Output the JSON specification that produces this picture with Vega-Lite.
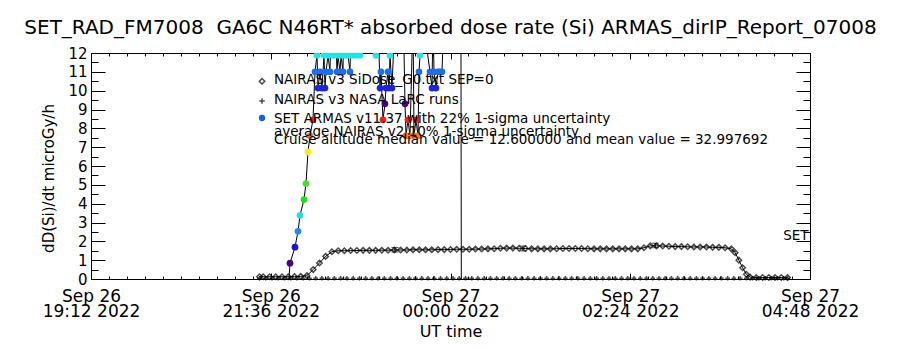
{
  "$schema": "https://vega.github.io/schema/vega-lite/v6.json",
  "width": 719,
  "height": 226,
  "autosize": {"type": "none"},
  "padding": {"left": 91, "top": 53, "right": 90, "bottom": 71},
  "background": "white",
  "title": {"text": "SET_RAD_FM7008\u00a0 GA6C N46RT* absorbed dose rate (Si) ARMAS_dirIP_Report_07008", "fontSize": 20, "font": "DejaVu Sans", "fontWeight": "normal", "color": "black", "offset": 8, "anchor": "middle"},
  "datasets": {
    "nairas": [
      {"t": "2022-09-26T21:27:00Z", "v": 0.12}, {"t": "2022-09-26T21:30:00Z", "v": 0.12}, {"t": "2022-09-26T21:35:00Z", "v": 0.12},
      {"t": "2022-09-26T21:40:00Z", "v": 0.12}, {"t": "2022-09-26T21:45:00Z", "v": 0.12}, {"t": "2022-09-26T21:50:00Z", "v": 0.12},
      {"t": "2022-09-26T21:55:00Z", "v": 0.13}, {"t": "2022-09-26T22:00:00Z", "v": 0.14}, {"t": "2022-09-26T22:05:00Z", "v": 0.18},
      {"t": "2022-09-26T22:10:00Z", "v": 0.5}, {"t": "2022-09-26T22:15:00Z", "v": 0.85}, {"t": "2022-09-26T22:20:00Z", "v": 1.2},
      {"t": "2022-09-26T22:25:00Z", "v": 1.45}, {"t": "2022-09-26T22:30:00Z", "v": 1.5}, {"t": "2022-09-26T22:35:00Z", "v": 1.5},
      {"t": "2022-09-26T22:40:00Z", "v": 1.51}, {"t": "2022-09-26T22:45:00Z", "v": 1.51}, {"t": "2022-09-26T22:50:00Z", "v": 1.52},
      {"t": "2022-09-26T22:55:00Z", "v": 1.52}, {"t": "2022-09-26T23:00:00Z", "v": 1.52}, {"t": "2022-09-26T23:05:00Z", "v": 1.53},
      {"t": "2022-09-26T23:10:00Z", "v": 1.53}, {"t": "2022-09-26T23:15:00Z", "v": 1.54}, {"t": "2022-09-26T23:20:00Z", "v": 1.54},
      {"t": "2022-09-26T23:25:00Z", "v": 1.54}, {"t": "2022-09-26T23:30:00Z", "v": 1.55}, {"t": "2022-09-26T23:35:00Z", "v": 1.55},
      {"t": "2022-09-26T23:40:00Z", "v": 1.55}, {"t": "2022-09-26T23:45:00Z", "v": 1.55}, {"t": "2022-09-26T23:50:00Z", "v": 1.56},
      {"t": "2022-09-26T23:55:00Z", "v": 1.56}, {"t": "2022-09-27T00:00:00Z", "v": 1.57}, {"t": "2022-09-27T00:05:00Z", "v": 1.58},
      {"t": "2022-09-27T00:10:00Z", "v": 1.58}, {"t": "2022-09-27T00:15:00Z", "v": 1.58}, {"t": "2022-09-27T00:20:00Z", "v": 1.59},
      {"t": "2022-09-27T00:25:00Z", "v": 1.59}, {"t": "2022-09-27T00:30:00Z", "v": 1.6}, {"t": "2022-09-27T00:35:00Z", "v": 1.61},
      {"t": "2022-09-27T00:40:00Z", "v": 1.63}, {"t": "2022-09-27T00:45:00Z", "v": 1.64}, {"t": "2022-09-27T00:50:00Z", "v": 1.64},
      {"t": "2022-09-27T00:55:00Z", "v": 1.63}, {"t": "2022-09-27T01:00:00Z", "v": 1.62}, {"t": "2022-09-27T01:05:00Z", "v": 1.6},
      {"t": "2022-09-27T01:10:00Z", "v": 1.6}, {"t": "2022-09-27T01:15:00Z", "v": 1.6}, {"t": "2022-09-27T01:20:00Z", "v": 1.6},
      {"t": "2022-09-27T01:25:00Z", "v": 1.61}, {"t": "2022-09-27T01:30:00Z", "v": 1.62}, {"t": "2022-09-27T01:35:00Z", "v": 1.62},
      {"t": "2022-09-27T01:40:00Z", "v": 1.62}, {"t": "2022-09-27T01:45:00Z", "v": 1.62}, {"t": "2022-09-27T01:50:00Z", "v": 1.61},
      {"t": "2022-09-27T01:55:00Z", "v": 1.6}, {"t": "2022-09-27T02:00:00Z", "v": 1.6}, {"t": "2022-09-27T02:05:00Z", "v": 1.6},
      {"t": "2022-09-27T02:10:00Z", "v": 1.6}, {"t": "2022-09-27T02:15:00Z", "v": 1.6}, {"t": "2022-09-27T02:20:00Z", "v": 1.6},
      {"t": "2022-09-27T02:25:00Z", "v": 1.6}, {"t": "2022-09-27T02:30:00Z", "v": 1.6}, {"t": "2022-09-27T02:35:00Z", "v": 1.66},
      {"t": "2022-09-27T02:40:00Z", "v": 1.76}, {"t": "2022-09-27T02:45:00Z", "v": 1.76}, {"t": "2022-09-27T02:50:00Z", "v": 1.75},
      {"t": "2022-09-27T02:55:00Z", "v": 1.74}, {"t": "2022-09-27T03:00:00Z", "v": 1.72}, {"t": "2022-09-27T03:05:00Z", "v": 1.72},
      {"t": "2022-09-27T03:10:00Z", "v": 1.71}, {"t": "2022-09-27T03:15:00Z", "v": 1.7}, {"t": "2022-09-27T03:20:00Z", "v": 1.7},
      {"t": "2022-09-27T03:25:00Z", "v": 1.7}, {"t": "2022-09-27T03:30:00Z", "v": 1.68}, {"t": "2022-09-27T03:35:00Z", "v": 1.68},
      {"t": "2022-09-27T03:40:00Z", "v": 1.66}, {"t": "2022-09-27T03:45:00Z", "v": 1.6}, {"t": "2022-09-27T03:48:00Z", "v": 1.4},
      {"t": "2022-09-27T03:51:00Z", "v": 1.0}, {"t": "2022-09-27T03:54:00Z", "v": 0.6}, {"t": "2022-09-27T03:57:00Z", "v": 0.25},
      {"t": "2022-09-27T04:00:00Z", "v": 0.1}, {"t": "2022-09-27T04:05:00Z", "v": 0.08}, {"t": "2022-09-27T04:10:00Z", "v": 0.08},
      {"t": "2022-09-27T04:15:00Z", "v": 0.08}, {"t": "2022-09-27T04:20:00Z", "v": 0.08}, {"t": "2022-09-27T04:25:00Z", "v": 0.08},
      {"t": "2022-09-27T04:30:00Z", "v": 0.08}
    ],
    "larc": [
      {"t": "2022-09-26T21:27:00Z", "v": 0.04}, {"t": "2022-09-26T21:32:00Z", "v": 0.04}, {"t": "2022-09-26T21:37:00Z", "v": 0.04},
      {"t": "2022-09-26T21:42:00Z", "v": 0.04}, {"t": "2022-09-26T21:47:00Z", "v": 0.04}, {"t": "2022-09-26T21:52:00Z", "v": 0.04},
      {"t": "2022-09-26T21:57:00Z", "v": 0.04}, {"t": "2022-09-26T22:02:00Z", "v": 0.04}, {"t": "2022-09-26T22:07:00Z", "v": 0.04},
      {"t": "2022-09-26T22:12:00Z", "v": 0.04}, {"t": "2022-09-26T22:17:00Z", "v": 0.04}, {"t": "2022-09-26T22:22:00Z", "v": 0.04},
      {"t": "2022-09-26T22:27:00Z", "v": 0.04}, {"t": "2022-09-26T22:32:00Z", "v": 0.04}, {"t": "2022-09-26T22:37:00Z", "v": 0.04},
      {"t": "2022-09-26T22:42:00Z", "v": 0.04}, {"t": "2022-09-26T22:47:00Z", "v": 0.04}, {"t": "2022-09-26T22:52:00Z", "v": 0.04},
      {"t": "2022-09-26T22:57:00Z", "v": 0.04}, {"t": "2022-09-26T23:02:00Z", "v": 0.04}, {"t": "2022-09-26T23:07:00Z", "v": 0.04},
      {"t": "2022-09-26T23:12:00Z", "v": 0.04}, {"t": "2022-09-26T23:17:00Z", "v": 0.04}, {"t": "2022-09-26T23:22:00Z", "v": 0.04},
      {"t": "2022-09-26T23:27:00Z", "v": 0.04}, {"t": "2022-09-26T23:32:00Z", "v": 0.04}, {"t": "2022-09-26T23:37:00Z", "v": 0.04},
      {"t": "2022-09-26T23:42:00Z", "v": 0.04}, {"t": "2022-09-26T23:47:00Z", "v": 0.04}, {"t": "2022-09-26T23:52:00Z", "v": 0.04},
      {"t": "2022-09-26T23:57:00Z", "v": 0.04}, {"t": "2022-09-27T00:02:00Z", "v": 0.04}, {"t": "2022-09-27T00:07:00Z", "v": 0.04},
      {"t": "2022-09-27T00:12:00Z", "v": 0.04}, {"t": "2022-09-27T00:17:00Z", "v": 0.04}, {"t": "2022-09-27T00:22:00Z", "v": 0.04},
      {"t": "2022-09-27T00:27:00Z", "v": 0.04}, {"t": "2022-09-27T00:32:00Z", "v": 0.04}, {"t": "2022-09-27T00:37:00Z", "v": 0.04},
      {"t": "2022-09-27T00:42:00Z", "v": 0.04}, {"t": "2022-09-27T00:47:00Z", "v": 0.04}, {"t": "2022-09-27T00:52:00Z", "v": 0.04},
      {"t": "2022-09-27T00:57:00Z", "v": 0.04}, {"t": "2022-09-27T01:02:00Z", "v": 0.04}, {"t": "2022-09-27T01:07:00Z", "v": 0.04},
      {"t": "2022-09-27T01:12:00Z", "v": 0.04}, {"t": "2022-09-27T01:17:00Z", "v": 0.04}, {"t": "2022-09-27T01:22:00Z", "v": 0.04},
      {"t": "2022-09-27T01:27:00Z", "v": 0.04}, {"t": "2022-09-27T01:32:00Z", "v": 0.04}, {"t": "2022-09-27T01:37:00Z", "v": 0.04},
      {"t": "2022-09-27T01:42:00Z", "v": 0.04}, {"t": "2022-09-27T01:47:00Z", "v": 0.04}, {"t": "2022-09-27T01:52:00Z", "v": 0.04},
      {"t": "2022-09-27T01:57:00Z", "v": 0.04}, {"t": "2022-09-27T02:02:00Z", "v": 0.04}, {"t": "2022-09-27T02:07:00Z", "v": 0.04},
      {"t": "2022-09-27T02:12:00Z", "v": 0.04}, {"t": "2022-09-27T02:17:00Z", "v": 0.04}, {"t": "2022-09-27T02:22:00Z", "v": 0.04},
      {"t": "2022-09-27T02:27:00Z", "v": 0.04}, {"t": "2022-09-27T02:32:00Z", "v": 0.04}, {"t": "2022-09-27T02:37:00Z", "v": 0.04},
      {"t": "2022-09-27T02:42:00Z", "v": 0.04}, {"t": "2022-09-27T02:47:00Z", "v": 0.04}, {"t": "2022-09-27T02:52:00Z", "v": 0.04},
      {"t": "2022-09-27T02:57:00Z", "v": 0.04}, {"t": "2022-09-27T03:02:00Z", "v": 0.04}, {"t": "2022-09-27T03:07:00Z", "v": 0.04},
      {"t": "2022-09-27T03:12:00Z", "v": 0.04}, {"t": "2022-09-27T03:17:00Z", "v": 0.04}, {"t": "2022-09-27T03:22:00Z", "v": 0.04},
      {"t": "2022-09-27T03:27:00Z", "v": 0.04}, {"t": "2022-09-27T03:32:00Z", "v": 0.04}, {"t": "2022-09-27T03:37:00Z", "v": 0.04},
      {"t": "2022-09-27T03:42:00Z", "v": 0.04}, {"t": "2022-09-27T03:47:00Z", "v": 0.04}, {"t": "2022-09-27T03:52:00Z", "v": 0.04},
      {"t": "2022-09-27T03:57:00Z", "v": 0.04}, {"t": "2022-09-27T04:02:00Z", "v": 0.04}, {"t": "2022-09-27T04:07:00Z", "v": 0.04},
      {"t": "2022-09-27T04:12:00Z", "v": 0.04}, {"t": "2022-09-27T04:17:00Z", "v": 0.04}, {"t": "2022-09-27T04:22:00Z", "v": 0.04},
      {"t": "2022-09-27T04:27:00Z", "v": 0.04}, {"t": "2022-09-27T04:30:00Z", "v": 0.04}
    ],
    "armas": [
      {"t": "2022-09-26T21:50:37Z", "v": 0}, {"t": "2022-09-26T21:51:25Z", "v": 0.84}, {"t": "2022-09-26T21:55:25Z", "v": 1.69},
      {"t": "2022-09-26T21:57:50Z", "v": 2.53}, {"t": "2022-09-26T21:59:26Z", "v": 3.38}, {"t": "2022-09-26T22:02:38Z", "v": 4.22},
      {"t": "2022-09-26T22:04:14Z", "v": 5.07}, {"t": "2022-09-26T22:05:50Z", "v": 6.75}, {"t": "2022-09-26T22:07:26Z", "v": 7.6},
      {"t": "2022-09-26T22:09:50Z", "v": 8.45}, {"t": "2022-09-26T22:11:27Z", "v": 11.0}, {"t": "2022-09-26T22:13:03Z", "v": 11.88},
      {"t": "2022-09-26T22:13:51Z", "v": 10.14}, {"t": "2022-09-26T22:15:27Z", "v": 11.0}, {"t": "2022-09-26T22:17:03Z", "v": 10.14},
      {"t": "2022-09-26T22:18:40Z", "v": 11.88}, {"t": "2022-09-26T22:19:28Z", "v": 10.14}, {"t": "2022-09-26T22:20:16Z", "v": 11.0},
      {"t": "2022-09-26T22:21:52Z", "v": 11.88}, {"t": "2022-09-26T22:23:28Z", "v": 11.0}, {"t": "2022-09-26T22:24:16Z", "v": 13.5},
      {"t": "2022-09-26T22:25:52Z", "v": 11.88}, {"t": "2022-09-26T22:27:28Z", "v": 14.2}, {"t": "2022-09-26T22:29:04Z", "v": 11.0},
      {"t": "2022-09-26T22:29:52Z", "v": 11.88}, {"t": "2022-09-26T22:31:28Z", "v": 11.0}, {"t": "2022-09-26T22:32:17Z", "v": 11.88},
      {"t": "2022-09-26T22:33:53Z", "v": 11.0}, {"t": "2022-09-26T22:34:41Z", "v": 15.0}, {"t": "2022-09-26T22:35:29Z", "v": 11.88},
      {"t": "2022-09-26T22:37:05Z", "v": 14.4}, {"t": "2022-09-26T22:37:53Z", "v": 11.88}, {"t": "2022-09-26T22:39:29Z", "v": 11.0},
      {"t": "2022-09-26T22:40:17Z", "v": 13.2}, {"t": "2022-09-26T22:41:05Z", "v": 11.88}, {"t": "2022-09-26T22:42:41Z", "v": 14.0},
      {"t": "2022-09-26T22:44:17Z", "v": 11.88}, {"t": "2022-09-26T22:45:53Z", "v": 16.0}, {"t": "2022-09-26T22:47:30Z", "v": 11.88},
      {"t": "2022-09-26T22:49:06Z", "v": 13.0}, {"t": "2022-09-26T22:52:18Z", "v": 14.5}, {"t": "2022-09-26T22:55:31Z", "v": 15.2},
      {"t": "2022-09-26T22:58:43Z", "v": 13.1}, {"t": "2022-09-26T23:00:19Z", "v": 11.88}, {"t": "2022-09-26T23:01:55Z", "v": 14.0},
      {"t": "2022-09-26T23:03:31Z", "v": 10.14}, {"t": "2022-09-26T23:04:19Z", "v": 11.0}, {"t": "2022-09-26T23:05:55Z", "v": 8.45},
      {"t": "2022-09-26T23:07:31Z", "v": 9.3}, {"t": "2022-09-26T23:08:19Z", "v": 10.14}, {"t": "2022-09-26T23:09:56Z", "v": 11.0},
      {"t": "2022-09-26T23:10:44Z", "v": 10.14}, {"t": "2022-09-26T23:11:32Z", "v": 11.88}, {"t": "2022-09-26T23:13:08Z", "v": 10.14},
      {"t": "2022-09-26T23:15:32Z", "v": 14.0}, {"t": "2022-09-26T23:19:32Z", "v": 13.0}, {"t": "2022-09-26T23:21:56Z", "v": 15.0},
      {"t": "2022-09-26T23:23:33Z", "v": 9.3}, {"t": "2022-09-26T23:24:21Z", "v": 7.6}, {"t": "2022-09-26T23:25:57Z", "v": 8.45},
      {"t": "2022-09-26T23:27:33Z", "v": 7.6}, {"t": "2022-09-26T23:29:57Z", "v": 14.0}, {"t": "2022-09-26T23:30:46Z", "v": 7.6},
      {"t": "2022-09-26T23:32:22Z", "v": 8.45}, {"t": "2022-09-26T23:33:58Z", "v": 7.6}, {"t": "2022-09-26T23:34:46Z", "v": 11.0},
      {"t": "2022-09-26T23:35:34Z", "v": 11.88}, {"t": "2022-09-26T23:37:10Z", "v": 14.0}, {"t": "2022-09-26T23:39:34Z", "v": 13.0},
      {"t": "2022-09-26T23:43:34Z", "v": 11.0}, {"t": "2022-09-26T23:45:11Z", "v": 10.14}, {"t": "2022-09-26T23:45:59Z", "v": 14.0},
      {"t": "2022-09-26T23:46:47Z", "v": 11.0}, {"t": "2022-09-26T23:48:23Z", "v": 10.14}, {"t": "2022-09-26T23:49:59Z", "v": 11.0},
      {"t": "2022-09-26T23:51:35Z", "v": 11.0}, {"t": "2022-09-26T23:53:11Z", "v": 11.0}, {"t": "2022-09-26T23:54:47Z", "v": 14.0},
      {"t": "2022-09-26T23:57:11Z", "v": 13.0}, {"t": "2022-09-27T00:01:12Z", "v": 15.0}, {"t": "2022-09-27T00:06:00Z", "v": 14.0},
      {"t": "2022-09-27T00:08:20Z", "v": 14.5}, {"t": "2022-09-27T00:08:40Z", "v": 0}
    ],
    "avg": [
      {"t": "2022-09-26T23:15:30Z", "lo": 1.43, "hi": 1.67},
      {"t": "2022-09-27T00:58:00Z", "lo": 1.49, "hi": 1.75},
      {"t": "2022-09-27T02:44:00Z", "lo": 1.66, "hi": 1.9}
    ],
    "legendtext": [
      {"label": "NAIRAS v3 SiDose_G0.txt SEP=0", "t": "2022-09-26T21:38:36Z", "v": 10.58},
      {"label": "NAIRAS v3 NASA LaRC runs", "t": "2022-09-26T21:38:36Z", "v": 9.52},
      {"label": "SET ARMAS v11.37 with 22% 1-sigma uncertainty", "t": "2022-09-26T21:38:36Z", "v": 8.51},
      {"label": "average NAIRAS v2 10% 1-sigma uncertainty", "t": "2022-09-26T21:38:36Z", "v": 7.8},
      {"label": "Cruise altitude median value = 12.600000 and mean value = 32.997692", "t": "2022-09-26T21:38:36Z", "v": 7.38}
    ]
  },
  "layer": [
    {
      "data": {"name": "nairas"},
      "mark": {"type": "line", "color": "black", "strokeWidth": 1},
      "encoding": {
        "x": {"field": "t", "type": "temporal", "scale": {"type": "utc", "domain": [1664219520000, 1664254080000]},
          "axis": {"orient": "bottom",
            "values": [1664219520000,1664220384000,1664221248000,1664222112000,1664222976000,1664223840000,1664224704000,1664225568000,1664226432000,1664227296000,1664228160000,1664229024000,1664229888000,1664230752000,1664231616000,1664232480000,1664233344000,1664234208000,1664235072000,1664235936000,1664236800000,1664237664000,1664238528000,1664239392000,1664240256000,1664241120000,1664241984000,1664242848000,1664243712000,1664244576000,1664245440000,1664246304000,1664247168000,1664248032000,1664248896000,1664249760000,1664250624000,1664251488000,1664252352000,1664253216000,1664254080000],
            "labelExpr": "(datum.value - 1664219520000) % 8640000 == 0 ? [utcFormat(datum.value, '%b %d'), utcFormat(datum.value, '%H:%M %Y')] : ''",
            "tickSize": {"condition": {"test": "(datum.value - 1664219520000) % 8640000 == 0", "value": -6}, "value": -3},
            "labelPadding": 15, "labelLineHeight": 15, "labelFontSize": 17, "labelOverlap": false, "labelFlush": false, "labelBound": false,
            "title": "UT time", "titlePadding": 4, "titleFontSize": 16}},
        "y": {"field": "v", "type": "quantitative", "scale": {"domain": [0, 12], "nice": false, "zero": false},
          "axis": {"orient": "left",
            "values": [0,0.5,1,1.5,2,2.5,3,3.5,4,4.5,5,5.5,6,6.5,7,7.5,8,8.5,9,9.5,10,10.5,11,11.5,12],
            "labelExpr": "datum.value % 1 == 0 ? format(datum.value, 'd') : ''",
            "tickSize": {"condition": {"test": "datum.value % 1 == 0", "value": -14}, "value": -7},
            "labelPadding": 18, "labelFontSize": 15, "labelOverlap": false, "labelBound": false,
            "title": "dD(Si)/dt microGy/h", "titleFontSize": 15, "titlePadding": 11, "titleY": 125}}
      }
    },
    {
      "data": {"name": "nairas"},
      "mark": {"type": "point", "shape": "diamond", "filled": false, "color": "black", "size": 30, "strokeWidth": 1.5},
      "encoding": {
        "x": {"field": "t", "type": "temporal", "axis": null},
        "y": {"field": "v", "type": "quantitative", "axis": null}
      }
    },
    {
      "data": {"name": "larc"},
      "mark": {"type": "point", "shape": "M -1 0 L 1 0 M 0 -1 L 0 1", "filled": false, "color": "black", "size": 22, "strokeWidth": 1.5},
      "encoding": {
        "x": {"field": "t", "type": "temporal", "axis": null},
        "y": {"field": "v", "type": "quantitative", "axis": null}
      }
    },
    {
      "data": {"name": "avg"},
      "mark": {"type": "errorbar", "ticks": {"size": 7, "color": "black"}, "color": "black"},
      "encoding": {
        "x": {"field": "t", "type": "temporal", "axis": null},
        "y": {"field": "lo", "type": "quantitative", "axis": null},
        "y2": {"field": "hi"}
      }
    },
    {
      "data": {"name": "armas"},
      "mark": {"type": "line", "color": "black", "strokeWidth": 1, "clip": true},
      "encoding": {
        "x": {"field": "t", "type": "temporal", "axis": null},
        "y": {"field": "v", "type": "quantitative", "axis": null}
      }
    },
    {
      "data": {"name": "armas"},
      "transform": [{"filter": "datum.v > 0.3 && datum.v < 12.3"}],
      "mark": {"type": "point", "shape": "circle", "filled": true, "size": 45, "opacity": 1, "clip": true},
      "encoding": {
        "x": {"field": "t", "type": "temporal", "axis": null},
        "y": {"field": "v", "type": "quantitative", "axis": null},
        "color": {"field": "v", "type": "quantitative", "legend": null,
          "scale": {"type": "threshold",
            "domain": [0.4, 1.26, 2.1, 2.95, 3.8, 4.65, 5.5, 6.3, 7.15, 8.0, 8.9, 9.75, 10.6, 11.45],
            "range": ["#000000", "#4a0088", "#1414e6", "#1e8cff", "#1ee1e1", "#1ee11e", "#3ce628", "#b4f014", "#f0f01e", "#f08214", "#f01e1e", "#4a0088", "#2020e0", "#1870f0", "#1ee6e6"]}}
      }
    },
    {
      "data": {"name": "legendtext"},
      "mark": {"type": "text", "align": "left", "baseline": "middle", "fontSize": 13.5, "font": "DejaVu Sans", "color": "black"},
      "encoding": {
        "x": {"field": "t", "type": "temporal", "axis": null},
        "y": {"field": "v", "type": "quantitative", "axis": null},
        "text": {"field": "label"}
      }
    },
    {
      "data": {"values": [{"t": "2022-09-26T21:29:00Z", "v": 10.5}]},
      "mark": {"type": "point", "shape": "diamond", "filled": false, "color": "black", "size": 30, "strokeWidth": 1.5},
      "encoding": {
        "x": {"field": "t", "type": "temporal", "axis": null},
        "y": {"field": "v", "type": "quantitative", "axis": null}
      }
    },
    {
      "data": {"values": [{"t": "2022-09-26T21:29:00Z", "v": 9.45}]},
      "mark": {"type": "point", "shape": "M -1 0 L 1 0 M 0 -1 L 0 1", "filled": false, "color": "black", "size": 30, "strokeWidth": 1.5},
      "encoding": {
        "x": {"field": "t", "type": "temporal", "axis": null},
        "y": {"field": "v", "type": "quantitative", "axis": null}
      }
    },
    {
      "data": {"values": [{"t": "2022-09-26T21:29:00Z", "v": 8.55}]},
      "mark": {"type": "point", "shape": "circle", "filled": true, "color": "#1060f0", "size": 40, "opacity": 1},
      "encoding": {
        "x": {"field": "t", "type": "temporal", "axis": null},
        "y": {"field": "v", "type": "quantitative", "axis": null}
      }
    },
    {
      "data": {"values": [{"label": "SET", "t": "2022-09-27T04:26:30Z", "v": 2.3}]},
      "mark": {"type": "text", "align": "left", "baseline": "middle", "fontSize": 13.5, "font": "DejaVu Sans", "color": "black"},
      "encoding": {
        "x": {"field": "t", "type": "temporal",
          "axis": {"orient": "top", "labels": false, "title": null,
            "values": [1664219520000,1664220384000,1664221248000,1664222112000,1664222976000,1664223840000,1664224704000,1664225568000,1664226432000,1664227296000,1664228160000,1664229024000,1664229888000,1664230752000,1664231616000,1664232480000,1664233344000,1664234208000,1664235072000,1664235936000,1664236800000,1664237664000,1664238528000,1664239392000,1664240256000,1664241120000,1664241984000,1664242848000,1664243712000,1664244576000,1664245440000,1664246304000,1664247168000,1664248032000,1664248896000,1664249760000,1664250624000,1664251488000,1664252352000,1664253216000,1664254080000],
            "tickSize": {"condition": {"test": "(datum.value - 1664219520000) % 8640000 == 0", "value": -6}, "value": -3}}},
        "y": {"field": "v", "type": "quantitative",
          "axis": {"orient": "right", "labels": false, "title": null,
            "values": [0,0.5,1,1.5,2,2.5,3,3.5,4,4.5,5,5.5,6,6.5,7,7.5,8,8.5,9,9.5,10,10.5,11,11.5,12],
            "tickSize": {"condition": {"test": "datum.value % 1 == 0", "value": -14}, "value": -7}}},
        "text": {"field": "label"}
      }
    }
  ],
  "resolve": {"axis": {"x": "independent", "y": "independent"}},
  "config": {
    "view": {"stroke": "black", "strokeWidth": 1},
    "axis": {"domainColor": "black", "tickColor": "black", "labelColor": "black", "titleColor": "black", "labelFont": "DejaVu Sans", "titleFont": "DejaVu Sans", "titleFontWeight": "normal", "grid": false},
    "text": {"font": "DejaVu Sans"}
  }
}
